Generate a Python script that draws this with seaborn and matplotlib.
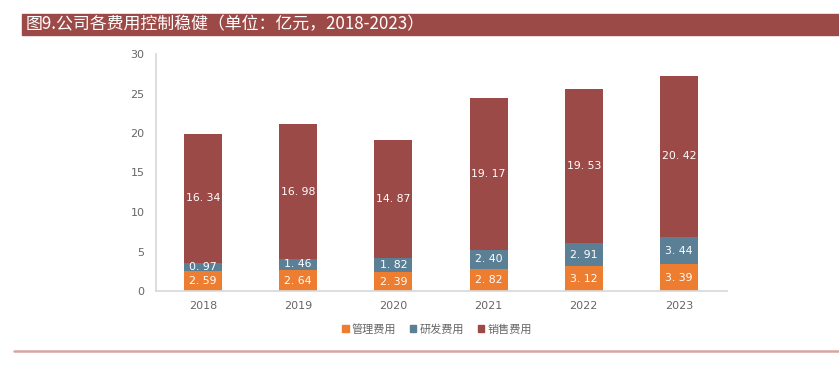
import matplotlib
matplotlib.use("Agg")
import matplotlib.pyplot as plt
import seaborn as sns
import pandas as pd
from matplotlib.patches import Rectangle
from matplotlib.lines import Line2D

years = ["2018", "2019", "2020", "2021", "2022", "2023"]
mgmt = [2.59, 2.64, 2.39, 2.82, 3.12, 3.39]
rnd = [0.97, 1.46, 1.82, 2.40, 2.91, 3.44]
sales = [16.34, 16.98, 14.87, 19.17, 19.53, 20.42]
series_names = ["管理费用", "研发费用", "销售费用"]
colors = ["#ED7D31", "#5B7F95", "#9C4A47"]
title = "图9.公司各费用控制稳健（单位：亿元，2018-2023）"

sns.set_theme(style="white")
plt.rcParams['font.family'] = ['Noto Sans CJK SC', 'DejaVu Sans']

fig = plt.figure(figsize=(8.39, 3.65), dpi=100)
W, H = 839, 365
ax = fig.add_axes([155.5 / W, 1 - 291 / H, (726.5 - 155.5) / W, (291 - 54) / H])

df = pd.DataFrame({"year": years, "m": mgmt, "r": rnd, "s": sales})
bottoms = [0] * len(years)
for col, c in zip(["m", "r", "s"], colors):
    sns.barplot(data=df, x="year", y=col, color=c, width=0.4, bottom=bottoms,
                ax=ax, saturation=1, linewidth=0, errorbar=None)
    vals = df[col].tolist()
    for i, (v, b) in enumerate(zip(vals, bottoms)):
        ax.text(i, b + v / 2, f"{v:.2f}".replace(".", ". "), ha="center", va="center",
                color="white", fontsize=7.8, family=['DejaVu Sans'])
    bottoms = [b + v for b, v in zip(bottoms, vals)]

ax.set_ylim(0, 30)
ax.set_yticks([0, 5, 10, 15, 20, 25, 30])
ax.set_xlim(-0.5, len(years) - 0.5)
ax.set_xlabel("")
ax.set_ylabel("")
for s in ["top", "right"]:
    ax.spines[s].set_visible(False)
ax.spines["left"].set_color("#D9D9D9")
ax.spines["bottom"].set_color("#D9D9D9")
ax.tick_params(axis="both", labelsize=8, colors="#666666", length=0, pad=6)
ax.tick_params(axis="y", length=4, color="#D9D9D9", direction="out", pad=4)
ax.set_xticks(range(len(years)))
ax.set_xticks([i - 0.5 for i in range(len(years) + 1)], minor=True)
ax.tick_params(axis="x", which="minor", length=4, color="#D9D9D9", direction="out")
ax.tick_params(axis="x", which="major", length=0, pad=7)
for lab in ax.get_xticklabels() + ax.get_yticklabels():
    lab.set_family(['DejaVu Sans'])

handles = [Rectangle((0, 0), 1, 1, color=c) for c in colors]
leg = fig.legend(handles, series_names, loc="center", bbox_to_anchor=(437 / W, 1 - 329 / H),
                 ncol=3, frameon=False, fontsize=8, handlelength=0.6, handleheight=0.6,
                 handletextpad=0.3, columnspacing=1.2)
for t in leg.get_texts():
    t.set_color("#666666")

# header bar
fig.patches.append(Rectangle((22 / W, 1 - 35 / H), 1 - 22 / W, 21 / H,
                             transform=fig.transFigure, color="#9C4A47", zorder=0))
fig.text(26 / W, 1 - 24.5 / H, title, color="white", fontsize=12.2, va="center", ha="left")

# bottom line
fig.add_artist(Line2D([14 / W, 1], [1 - 351 / H, 1 - 351 / H], transform=fig.transFigure,
                      color="#D9A5A3", linewidth=1.8))

fig.savefig("out.png", dpi=100)
